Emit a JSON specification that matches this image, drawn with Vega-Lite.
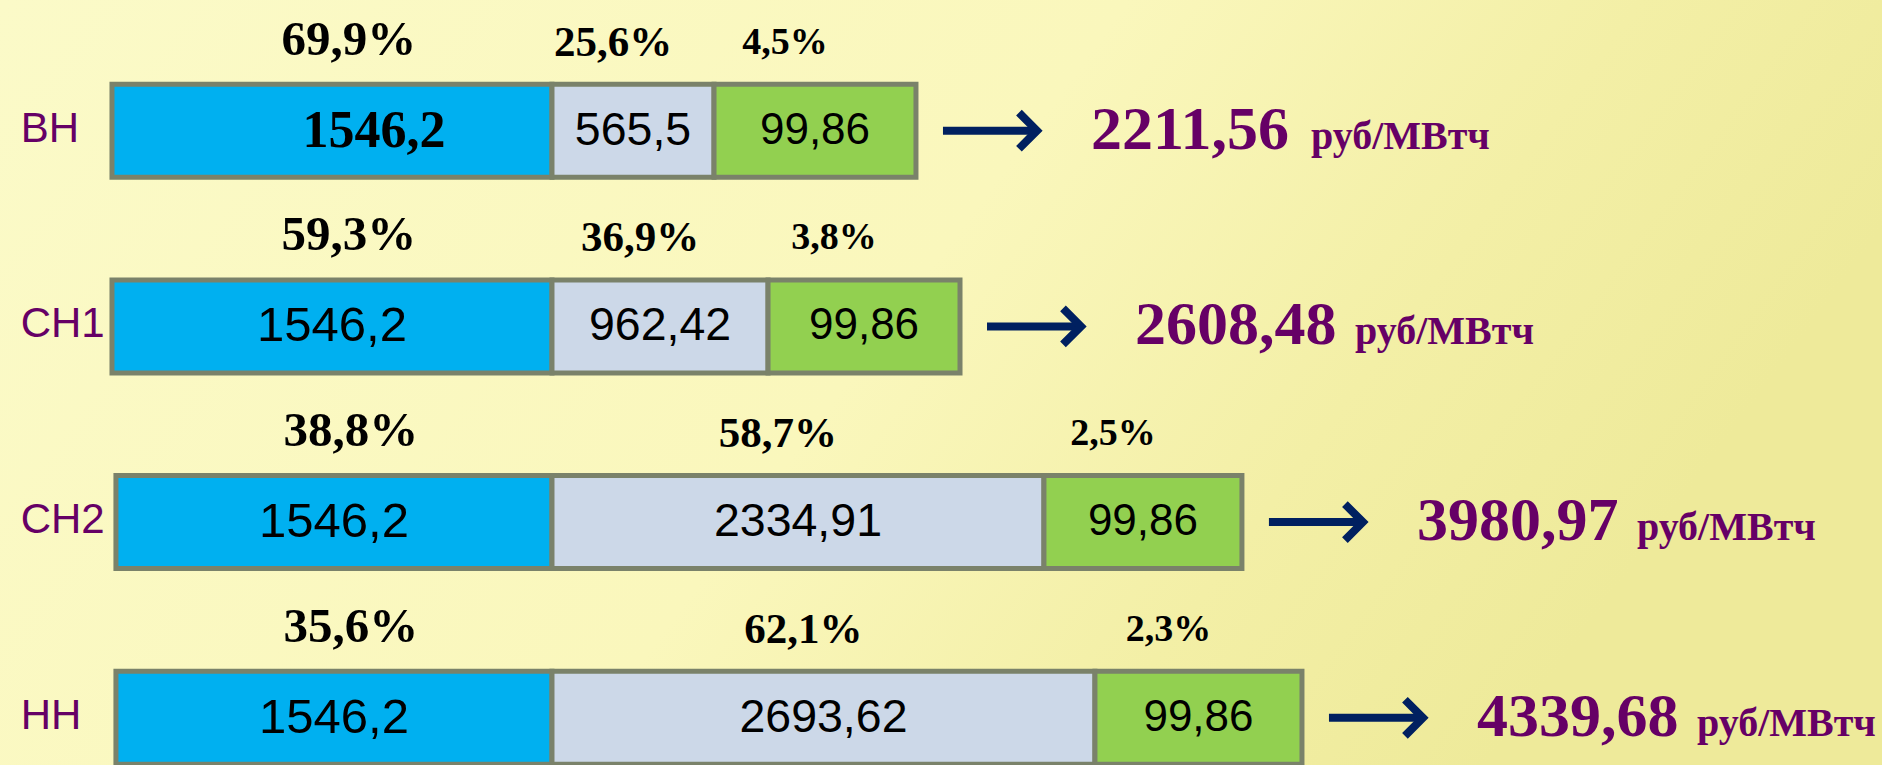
{
  "$schema": "https://vega.github.io/schema/vega-lite/v6.json",
  "width": 1882,
  "height": 765,
  "autosize": {"type": "none"},
  "padding": 0,
  "background": "#F8F6BA",
  "config": {
    "view": {
      "stroke": null,
      "fill": {"gradient": "linear", "x1": 0, "y1": 0, "x2": 1, "y2": 0.3,
        "stops": [{"offset": 0, "color": "#FBFAC8"}, {"offset": 0.55, "color": "#FAF7BC"}, {"offset": 0.8, "color": "#F3EFA6"}, {"offset": 1, "color": "#EEEA9A"}]}
    },
    "locale": {"number": {"decimal": ",", "thousands": " ", "grouping": [3], "currency": ["", ""]}}
  },
  "data": {
    "values": [
      {"row": "ВН", "part": "ОРЭМ", "value": 1546.2, "pct": 0.699, "total": 2211.56, "x_start": 5.95, "x_end": 29.33},
      {"row": "ВН", "part": "передача", "value": 565.5, "pct": 0.256, "total": 2211.56, "x_start": 29.33, "x_end": 37.94},
      {"row": "ВН", "part": "сбыт", "value": 99.86, "pct": 0.045, "total": 2211.56, "x_start": 37.94, "x_end": 48.67},
      {"row": "СН1", "part": "ОРЭМ", "value": 1546.2, "pct": 0.593, "total": 2608.48, "x_start": 5.95, "x_end": 29.33},
      {"row": "СН1", "part": "передача", "value": 962.42, "pct": 0.369, "total": 2608.48, "x_start": 29.33, "x_end": 40.81},
      {"row": "СН1", "part": "сбыт", "value": 99.86, "pct": 0.038, "total": 2608.48, "x_start": 40.81, "x_end": 51.01},
      {"row": "СН2", "part": "ОРЭМ", "value": 1546.2, "pct": 0.388, "total": 3980.97, "x_start": 6.16, "x_end": 29.33},
      {"row": "СН2", "part": "передача", "value": 2334.91, "pct": 0.587, "total": 3980.97, "x_start": 29.33, "x_end": 55.47},
      {"row": "СН2", "part": "сбыт", "value": 99.86, "pct": 0.025, "total": 3980.97, "x_start": 55.47, "x_end": 65.99},
      {"row": "НН", "part": "ОРЭМ", "value": 1546.2, "pct": 0.356, "total": 4339.68, "x_start": 6.16, "x_end": 29.33},
      {"row": "НН", "part": "передача", "value": 2693.62, "pct": 0.621, "total": 4339.68, "x_start": 29.33, "x_end": 58.18},
      {"row": "НН", "part": "сбыт", "value": 99.86, "pct": 0.023, "total": 4339.68, "x_start": 58.18, "x_end": 69.18}
    ]
  },
  "encoding": {
    "y": {"field": "row", "type": "nominal", "sort": ["ВН", "СН1", "СН2", "НН"],
      "scale": {"type": "band", "range": [84.2, 764.3], "paddingInner": 0.525, "paddingOuter": 0}, "axis": null}
  },
  "layer": [
    {
      "mark": {"type": "bar", "stroke": "#7A826A", "strokeWidth": 5, "strokeJoin": "miter"},
      "encoding": {
        "x": {"field": "x_start", "type": "quantitative", "scale": {"domain": [0, 100], "nice": false, "zero": false}, "axis": null},
        "x2": {"field": "x_end"},
        "color": {"field": "part", "type": "nominal", "scale": {"domain": ["ОРЭМ", "передача", "сбыт"], "range": ["#00B0F0", "#CCD8E8", "#92D050"]}, "legend": null}
      }
    },
    {
      "transform": [
        {"fold": ["x_start", "x_end"], "as": ["edge", "pos"]},
        {"aggregate": [{"op": "mean", "field": "pos", "as": "mid"}], "groupby": ["row", "part", "value", "pct"]}
      ],
      "layer": [
        {
          "transform": [{"filter": "!(datum.row == 'ВН' && datum.part == 'ОРЭМ')"}],
          "mark": {"type": "text", "font": "Liberation Sans", "color": "#000000", "baseline": "middle", "align": "center"},
          "encoding": {
            "x": {"field": "mid", "type": "quantitative"},
            "text": {"field": "value", "type": "quantitative", "format": "~f"},
            "size": {"field": "part", "type": "nominal", "scale": {"domain": ["ОРЭМ", "передача", "сбыт"], "range": [49, 44, 39]}, "legend": null}
          }
        },
        {
          "transform": [{"filter": "datum.row == 'ВН' && datum.part == 'ОРЭМ'"}],
          "mark": {"type": "text", "font": "Liberation Serif", "fontWeight": "bold", "fontSize": 52, "color": "#000000", "baseline": "middle", "align": "center", "dx": 42},
          "encoding": {
            "x": {"field": "mid", "type": "quantitative"},
            "text": {"field": "value", "type": "quantitative", "format": "~f"}
          }
        },
        {
          "transform": [{"filter": "datum.part == 'ОРЭМ'"}],
          "mark": {"type": "text", "font": "Liberation Serif", "fontWeight": "bold", "fontSize": 49, "color": "#000000", "baseline": "middle", "align": "center", "dy": -91, "dx": 17},
          "encoding": {
            "x": {"field": "mid", "type": "quantitative"},
            "text": {"field": "pct", "type": "quantitative", "format": ".1%"}
          }
        },
        {
          "transform": [{"filter": "datum.part == 'передача'"}],
          "mark": {"type": "text", "font": "Liberation Serif", "fontWeight": "bold", "fontSize": 43, "color": "#000000", "baseline": "middle", "align": "center", "dy": -88, "dx": -20},
          "encoding": {
            "x": {"field": "mid", "type": "quantitative"},
            "text": {"field": "pct", "type": "quantitative", "format": ".1%"}
          }
        },
        {
          "transform": [{"filter": "datum.part == 'сбыт'"}],
          "mark": {"type": "text", "font": "Liberation Serif", "fontWeight": "bold", "fontSize": 38, "color": "#000000", "baseline": "middle", "align": "center", "dy": -88, "dx": -30},
          "encoding": {
            "x": {"field": "mid", "type": "quantitative"},
            "text": {"field": "pct", "type": "quantitative", "format": ".1%"}
          }
        }
      ]
    },
    {
      "transform": [{"filter": "datum.part == 'ОРЭМ'"}],
      "mark": {"type": "text", "font": "Liberation Sans", "fontSize": 42, "color": "#660066", "align": "left", "baseline": "middle", "dy": -2},
      "encoding": {
        "x": {"datum": 1.1, "type": "quantitative"},
        "text": {"field": "row"}
      }
    },
    {
      "transform": [{"filter": "datum.part == 'сбыт'"}],
      "mark": {"type": "rule", "color": "#002060", "strokeWidth": 8, "xOffset": 27, "x2Offset": 117, "strokeCap": "butt"},
      "encoding": {
        "x": {"field": "x_end", "type": "quantitative"},
        "x2": {"field": "x_end"}
      }
    },
    {
      "transform": [{"filter": "datum.part == 'сбыт'"}],
      "mark": {"type": "point", "shape": "M -1 -1 L 0 0 L -1 1", "filled": false, "stroke": "#002060", "strokeWidth": 8, "strokeJoin": "miter", "strokeCap": "butt", "size": 1300, "xOffset": 121, "opacity": 1},
      "encoding": {
        "x": {"field": "x_end", "type": "quantitative"}
      }
    },
    {
      "transform": [{"filter": "datum.part == 'сбыт'"}],
      "mark": {"type": "text", "font": "Liberation Serif", "fontWeight": "bold", "fontSize": 62, "color": "#660066", "align": "left", "baseline": "alphabetic", "xOffset": 175, "dy": 18},
      "encoding": {
        "x": {"field": "x_end", "type": "quantitative"},
        "text": {"field": "total", "type": "quantitative", "format": ".2f"}
      }
    },
    {
      "transform": [{"filter": "datum.part == 'сбыт'"}],
      "mark": {"type": "text", "font": "Liberation Serif", "fontWeight": "bold", "fontSize": 40, "color": "#660066", "align": "left", "baseline": "alphabetic", "xOffset": 395, "dy": 18, "text": "руб/МВтч"},
      "encoding": {
        "x": {"field": "x_end", "type": "quantitative"}
      }
    }
  ]
}
